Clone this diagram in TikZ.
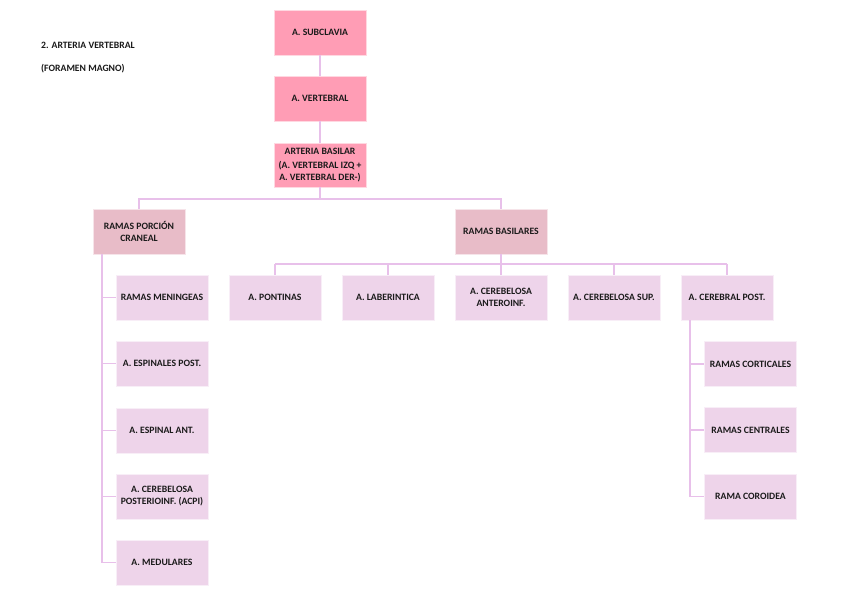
\documentclass[tikz,border=0pt]{standalone}
\usepackage{fontspec}
\setmainfont{Carlito}
\definecolor{topc}{HTML}{FF9DB5}
\definecolor{midc}{HTML}{E8BCC8}
\definecolor{leafc}{HTML}{EED4EA}
\definecolor{linec}{HTML}{E8C0EA}
\definecolor{txtc}{HTML}{1A1A1A}
\tikzset{
  base/.style={rectangle, minimum width=92pt, minimum height=45pt, inner sep=1pt, align=center,
    font=\fontsize{9.7}{12}\selectfont\bfseries, text=txtc, draw=white!60!#1, line width=0.5pt, fill=#1},
  topbox/.style={base=topc},
  midbox/.style={base=midc},
  leafbox/.style={base=leafc},
  conn/.style={draw=linec, line width=1.4pt},
  lbl/.style={anchor=west, inner sep=0pt, font=\fontsize{9.7}{11}\selectfont\bfseries, text=txtc}
}
\begin{document}
\begin{tikzpicture}[x=1pt,y=-1pt]
\useasboundingbox (0,0) rectangle (848,599);
\fill[white] (0,0) rectangle (848,599);
\node[lbl] (t1) at (41,45) {2. ARTERIA VERTEBRAL};
\node[lbl] (t2) at (41,69) {(FORAMEN MAGNO)};

\node[topbox] (sub) at (320,32.5) {A. SUBCLAVIA};
\node[topbox] (ver) at (320,98.5) {A. VERTEBRAL};
\node[topbox, minimum height=44pt] (bas) at (320,165) {ARTERIA BASILAR\\[2pt](A. VERTEBRAL IZQ +\\A. VERTEBRAL DER-)};

\node[midbox] (cra) at (139,231.5) {RAMAS PORCIÓN\\CRANEAL};
\node[midbox] (rb) at (501,231.5) {RAMAS BASILARES};

\node[leafbox] (men) at (162,297.5) {RAMAS MENINGEAS};
\node[leafbox] (esp) at (162,363.5) {A. ESPINALES POST.};
\node[leafbox] (ant) at (162,430.5) {A. ESPINAL ANT.};
\node[leafbox] (acp) at (162,496.5) {A. CEREBELOSA\\POSTERIOINF. (ACPI)};
\node[leafbox] (med) at (162,562.5) {A. MEDULARES};

\node[leafbox] (pon) at (275,297.5) {A. PONTINAS};
\node[leafbox] (lab) at (388,297.5) {A. LABERINTICA};
\node[leafbox] (aic) at (501,297.5) {A. CEREBELOSA\\ANTEROINF.};
\node[leafbox] (sup) at (614,297.5) {A. CEREBELOSA SUP.};
\node[leafbox] (cpo) at (727,297.5) {A. CEREBRAL POST.};

\node[leafbox] (cor) at (750.5,364) {RAMAS CORTICALES};
\node[leafbox] (cen) at (750.5,430) {RAMAS CENTRALES};
\node[leafbox] (coi) at (750.5,496.5) {RAMA COROIDEA};

\draw[conn] (sub.south) -- (ver.north);
\draw[conn] (ver.south) -- (bas.north);
\draw[conn] (bas.south) -- (320,199) -| (cra.north);
\draw[conn] (320,199) -| (rb.north);
\draw[conn] (rb.south) -- (501,264);
\draw[conn] (275,264) -- (727,264);
\foreach \n in {pon,lab,aic,sup,cpo} \draw[conn] (\n.north |- 0,264) -- (\n.north);
\draw[conn] (102,254) -- (102,562.5);
\foreach \n in {men,esp,ant,acp,med} \draw[conn] (102,0 |- \n.west) -- (\n.west);
\draw[conn] (690,320) -- (690,496.5);
\foreach \n in {cor,cen,coi} \draw[conn] (690,0 |- \n.west) -- (\n.west);
\end{tikzpicture}
\end{document}
